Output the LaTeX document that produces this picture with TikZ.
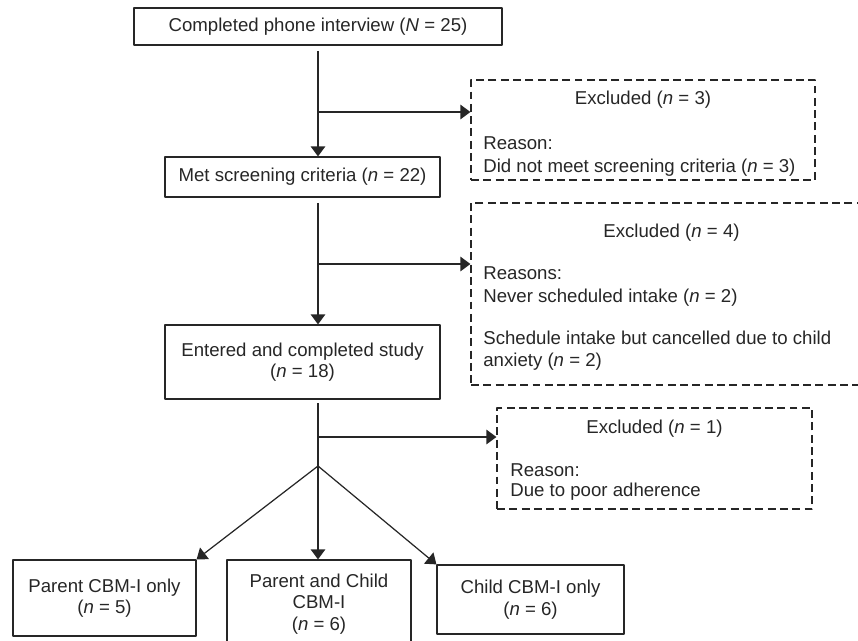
\documentclass[tikz,border=0pt]{standalone}
\usepackage{fontspec}
\setmainfont{Liberation Sans}
\usetikzlibrary{arrows.meta,calc}

\begin{document}
\begin{tikzpicture}[x=0.02cm,y=-0.02cm,line join=round,
    font=\fontsize{10.6}{12.2}\selectfont,color=black!85,
    box/.style={draw,line width=0.7pt,align=center,inner sep=0pt},
    exbox/.style={draw,line width=0.7pt,dash pattern=on 4.5pt off 2.5pt,inner sep=0pt},
    txt/.style={inner sep=0pt},
    link/.style={line width=0.7pt},
    arr/.style={link,-{Triangle[length=2mm,width=2.9mm]}}]
    \useasboundingbox (0,0) rectangle (858,640);
    % main column
    \node[box,minimum width=7.36cm,minimum height=0.74cm] (phone)  at (318,26.5)  {Completed phone interview (\textit{N} = 25)};
    \node[box,minimum width=5.5cm,minimum height=0.8cm]   (screen) at (302.5,177) {Met screening criteria (\textit{n} = 22)};
    \node[box,minimum width=5.5cm,minimum height=1.48cm]  (study)  at (302.5,362) {Entered and completed study\\(\textit{n} = 18)};
    \node[box,minimum width=3.66cm,minimum height=1.52cm] (parent) at (104.5,598) {Parent CBM-I only\\(\textit{n} = 5)};
    \node[box,minimum width=3.68cm,minimum height=1.76cm] (both)   at (319,604)   {Parent and Child\\CBM-I\\(\textit{n} = 6)};
    \node[box,minimum width=3.74cm,minimum height=1.38cm] (child)  at (530.5,599.5) {Child CBM-I only\\(\textit{n} = 6)};
    % exclusions
    \node[exbox,minimum width=6.88cm,minimum height=2cm]    (excl1) at (643,130)   {};
    \node[exbox,minimum width=8.02cm,minimum height=3.64cm] (excl2) at (671.5,294) {};
    \node[exbox,minimum width=6.3cm,minimum height=2.02cm]  (excl3) at (654.5,458.5) {};
    \node[txt,anchor=base]      (ex1title) at (643,104.5) {Excluded (\textit{n} = 3)};
    \node[txt,anchor=base west] (ex1a)     at (483,149.5) {Reason:};
    \node[txt,anchor=base west] (ex1b)     at (483,172.5) {Did not meet screening criteria (\textit{n} = 3)};
    \node[txt,anchor=base]      (ex2title) at (671.5,237) {Excluded (\textit{n} = 4)};
    \node[txt,anchor=base west] (ex2a)     at (483,279.5) {Reasons:};
    \node[txt,anchor=base west] (ex2b)     at (483,302.5) {Never scheduled intake (\textit{n} = 2)};
    \node[txt,anchor=base west] (ex2c)     at (483,344.5) {Schedule intake but cancelled due to child};
    \node[txt,anchor=base west] (ex2d)     at (483,366.5) {anxiety (\textit{n} = 2)};
    \node[txt,anchor=base]      (ex3title) at (654.5,433) {Excluded (\textit{n} = 1)};
    \node[txt,anchor=base west] (ex3a)     at (510,476)   {Reason:};
    \node[txt,anchor=base west] (ex3b)     at (510,496)   {Due to poor adherence};
    % connectors
    \coordinate (b1)    at (318,112);
    \coordinate (b2)    at (318,264);
    \coordinate (b3)    at (318,437);
    \coordinate (split) at (318,466);
    \draw[arr,shorten <=3pt] (phone.south) -- (phone.south |- screen.north);
    \draw[arr] (b1) -- (b1 -| excl1.west);
    \draw[arr,shorten <=3pt] (b2 |- screen.south) -- (b2 |- study.north);
    \draw[arr] (b2) -- (b2 -| excl2.west);
    \draw[link,shorten <=2pt] (b3 |- study.south) -- (split);
    \draw[arr] (b3) -- (b3 -| excl3.west);
    \draw[arr] (split) -- (parent.north east);
    \draw[arr] (split) -- (split |- both.north);
    \draw[arr] (split) -- (child.north west);
\end{tikzpicture}
\end{document}
